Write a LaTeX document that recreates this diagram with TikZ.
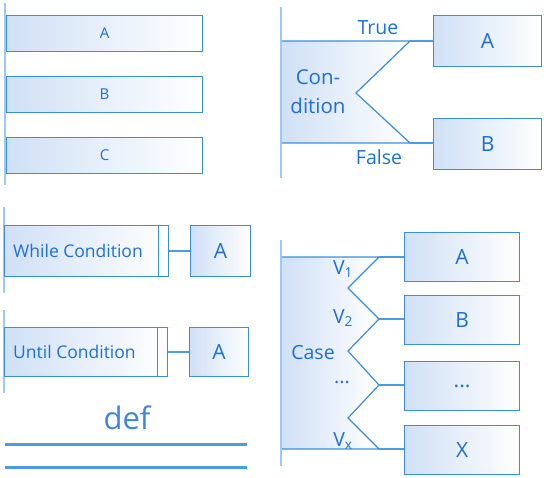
\documentclass[tikz,border=0pt]{standalone}
\usepackage{fontspec}
\setmainfont{Open Sans}
\definecolor{bord}{HTML}{3A8EE2}
\definecolor{txt}{HTML}{1E6FD6}
\definecolor{rail}{HTML}{9CCAF4}
\definecolor{fillL}{HTML}{D0E0F6}
\definecolor{conn}{HTML}{4C9BE8}
\begin{document}
\begin{tikzpicture}[x=1pt,y=-1pt,
  box/.style={draw=bord, line width=1.2pt, left color=fillL, right color=white, text=txt, inner sep=0pt, anchor=north west, font=\fontsize{21}{24}\selectfont},
  sbox/.style={draw=bord, line width=1.2pt, left color=fillL, right color=white, text=txt, inner sep=0pt, anchor=north west},
  railline/.style={draw=rail, line width=1.8pt},
  conline/.style={draw=conn, line width=1.8pt},
  shapebd/.style={draw=bord, line width=1.2pt, line join=miter},
  lbl/.style={text=txt, inner sep=0pt, font=\fontsize{19.5}{22}\selectfont}]
\useasboundingbox (0,0) rectangle (546,478);

% ---------- top left: sequence ----------
\coordinate (r1a) at (5,3);
\coordinate (r1b) at (5,185);
\draw[railline] (r1a) -- (r1b);
\node[sbox, minimum width=196pt, minimum height=36pt] (sA) at (6,15) {};
\node[sbox, minimum width=196pt, minimum height=36pt] (sB) at (6,76) {};
\node[sbox, minimum width=196pt, minimum height=36pt] (sC) at (6,137) {};
\node[lbl, font=\fontsize{15}{18}\selectfont] (sAt) at (sA.center) {A};
\node[lbl, font=\fontsize{15}{18}\selectfont] (sBt) at (sB.center) {B};
\node[lbl, font=\fontsize{15}{18}\selectfont] (sCt) at (sC.center) {C};

% ---------- top right: condition ----------
\coordinate (r2a) at (281,7);
\coordinate (r2b) at (281,178);
\coordinate (c1) at (281,41);
\coordinate (c2) at (410,41);
\coordinate (c3) at (356,93);
\coordinate (c4) at (410,143);
\coordinate (c5) at (281,143);
\shade[left color=fillL, right color=white] (c1) -- (c2) -- (c3) -- (c4) -- (c5) -- cycle;
\draw[shapebd] (c1) -- (c2) -- (c3) -- (c4) -- (c5);
\draw[railline] (r2a) -- (r2b);
\node[box, minimum width=108pt, minimum height=51pt] (iA) at (433,15) {A};
\node[box, minimum width=108pt, minimum height=51pt] (iB) at (433,118) {B};
\draw[conline] (c2) -- (c2 -| iA.west);
\draw[conline] (c4) -- (c4 -| iB.west);
\node[lbl] (tTrue) at (378,28) {True};
\node[lbl] (tFalse) at (379,157) {False};
\node[lbl, align=center, font=\fontsize{20.5}{29}\selectfont] (tCond) at (318,92) {Con-\\dition};

% ---------- bottom left: loops ----------
\coordinate (r3a) at (4,207);
\coordinate (r3b) at (4,293);
\draw[railline] (r3a) -- (r3b);
\node[box, minimum width=164pt, minimum height=51pt] (wh) at (4,225) {};
\node[lbl, anchor=west, font=\fontsize{17.5}{20}\selectfont] (whT) at (13,251) {While Condition};
\draw[shapebd] ([xshift=-11pt]wh.north east) -- ([xshift=-11pt]wh.south east);
\node[box, minimum width=60pt, minimum height=51pt] (wA) at (190,225) {A};
\draw[conline] (wh.east) -- (wA.west);

\coordinate (r4a) at (4,310);
\coordinate (r4b) at (4,393);
\draw[railline] (r4a) -- (r4b);
\node[box, minimum width=163pt, minimum height=49pt] (un) at (4,327) {};
\node[lbl, anchor=west, font=\fontsize{17.5}{20}\selectfont] (unT) at (13,352) {Until Condition};
\draw[shapebd] ([xshift=-11pt]un.north east) -- ([xshift=-11pt]un.south east);
\node[box, minimum width=59pt, minimum height=49pt] (uA) at (189,327) {A};
\draw[conline] (un.east) -- (uA.west);

% ---------- def ----------
\node[lbl, text=txt!85, font=\fontsize{31}{34}\selectfont] (def) at (127,418) {def};
\coordinate (d1a) at (5,444);
\coordinate (d1b) at (247,444);
\coordinate (d2a) at (5,467);
\coordinate (d2b) at (247,467);
\draw[conline, line width=3pt] (d1a) -- (d1b);
\draw[conline, line width=3pt] (d2a) -- (d2b);

% ---------- bottom right: case ----------
\coordinate (r5a) at (281,240);
\coordinate (r5b) at (281,466);
\coordinate (k0) at (281,257);
\coordinate (k1) at (379,257);
\coordinate (k2) at (348,288);
\coordinate (k3) at (379,319);
\coordinate (k4) at (348,351);
\coordinate (k5) at (379,385);
\coordinate (k6) at (348,418);
\coordinate (k7) at (379,449);
\coordinate (k8) at (281,449);
\shade[left color=fillL, right color=white] (k0) -- (k1) -- (k2) -- (k3) -- (k4) -- (k5) -- (k6) -- (k7) -- (k8) -- cycle;
\draw[shapebd] (k0) -- (k1) -- (k2) -- (k3) -- (k4) -- (k5) -- (k6) -- (k7) -- (k8);
\draw[railline] (r5a) -- (r5b);
\node[box, minimum width=115pt, minimum height=49pt] (cA) at (404,232) {A};
\node[box, minimum width=115pt, minimum height=49pt] (cB) at (404,295) {B};
\node[box, minimum width=115pt, minimum height=49pt] (cD) at (404,361) {...};
\node[box, minimum width=115pt, minimum height=49pt] (cX) at (404,425) {X};
\draw[conline] (k1) -- (k1 -| cA.west);
\draw[conline] (k3) -- (k3 -| cB.west);
\draw[conline] (k5) -- (k5 -| cD.west);
\draw[conline] (k7) -- (k7 -| cX.west);
\node[lbl] (v1) at (343,269) {V\textsubscript{1}};
\node[lbl] (v2) at (343,318) {V\textsubscript{2}};
\node[lbl] (vcase) at (313,353) {Case};
\node[lbl] (vdots) at (342,382) {...};
\node[lbl] (vx) at (343,441) {V\textsubscript{x}};
\end{tikzpicture}
\end{document}
